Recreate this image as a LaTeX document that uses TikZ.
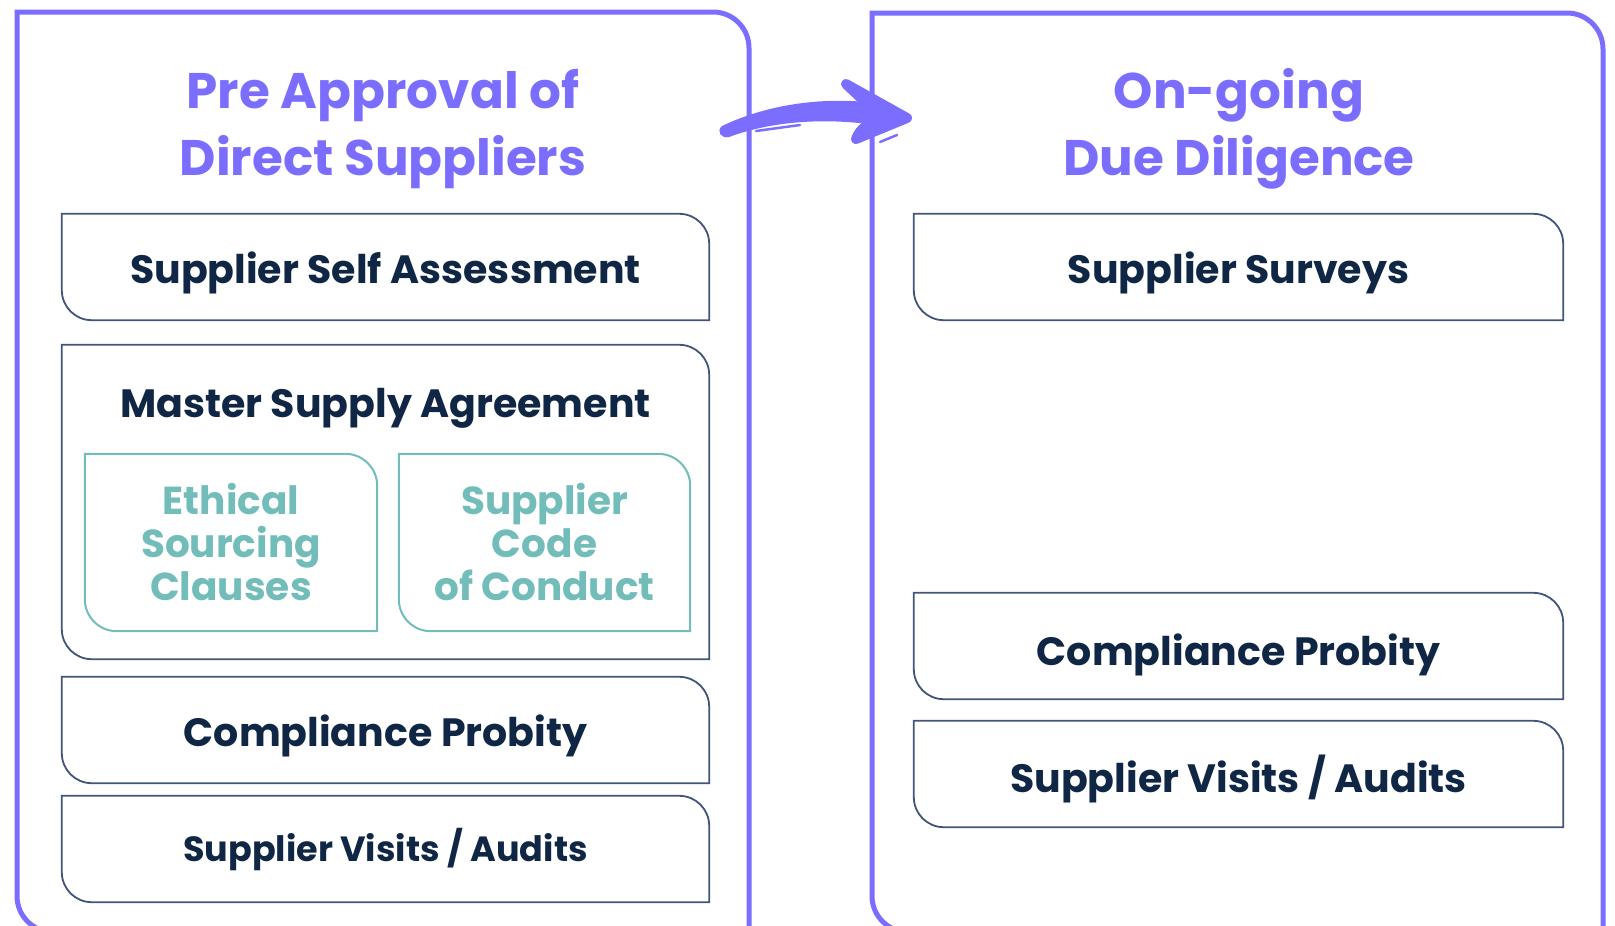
\documentclass[tikz,border=0pt]{standalone}
\usepackage{fontspec}
\setmainfont{Poppins}
\usetikzlibrary{positioning}

\definecolor{lilac}{HTML}{7B6EFF}
\definecolor{navy}{HTML}{0F2645}
\definecolor{slate}{HTML}{41557A}
\definecolor{teal}{HTML}{72BDBA}

\tikzstyle{panel} = [draw=lilac, line width=5]
\tikzstyle{heading} = [
    text=lilac,
    font=\fontsize{50}{67}\selectfont\bfseries,
    align=center
]
\tikzstyle{stepbox} = [
    rectangle,
    inner sep=0pt,
    text depth=0pt,
    text=navy,
    font=\fontsize{39.5}{44}\selectfont\bfseries
]
\tikzstyle{clausebox} = [
    rectangle,
    inner sep=0pt,
    text=teal,
    align=center,
    font=\fontsize{39}{43}\selectfont\bfseries
]
\tikzstyle{arrow} = [lilac, line cap=round, line join=round]

% frame with rounded top right and bottom left corners
\newcommand{\leafframe}[3]{%
\draw[#3] (#1.north west) -- ([xshift=-#2pt]#1.north east)
    arc[start angle=-90, end angle=0, radius=#2] -- (#1.south east)
    -- ([xshift=#2pt]#1.south west)
    arc[start angle=90, end angle=180, radius=#2] -- cycle;}

\begin{document}
\begin{tikzpicture}[x=1pt, y=-1pt]
\useasboundingbox (0,0) rectangle (1615,926);

% the two stages
\draw[panel] (749,960) -- (749,48) arc[start angle=0, end angle=-90, radius=36]
    -- (17,12) -- (17,896) arc[start angle=180, end angle=90, radius=36]
    -- (749,932);
\draw[panel] (1603,960) -- (1603,49) arc[start angle=0, end angle=-90, radius=36]
    -- (872,13) -- (872,896) arc[start angle=180, end angle=90, radius=36]
    -- (1603,932);

\node (preapp) [heading] at (383,129) {Pre Approval of\\Direct Suppliers};
\node (ongoing) [heading] at (1239,129) {On-going\\Due Diligence};

% left column
\node (selfass) [stepbox, minimum width=647, minimum height=106,
    text height=33pt] at (385.5,267)
{Supplier Self Assessment};
\node (msa) [stepbox, minimum width=647, minimum height=314] at (385.5,502) {};
\node (msatitle) [stepbox] at (385.5,403) {Master Supply Agreement};
\node (ethical) [clausebox, minimum width=292, minimum height=177] at (231,542.5)
{Ethical\\Sourcing\\Clauses};
\node (code) [clausebox, minimum width=291, minimum height=177] at (544.5,542.5)
{Supplier\\Code\\of Conduct};
\node (probleft) [stepbox, minimum width=647, minimum height=106,
    text height=33pt] at (385.5,730)
{Compliance Probity};
\node (visitleft) [stepbox, minimum width=647, minimum height=106,
    text depth=8pt, font=\fontsize{35}{40}\selectfont\bfseries] at (385.5,849)
{Supplier Visits / Audits};

% right column
\node (surveys) [stepbox, minimum width=649, minimum height=106,
    text height=33pt] at (1238.5,267)
{Supplier Surveys};
\node (probright) [stepbox, minimum width=649, minimum height=106,
    text height=39pt] at (1238.5,646)
{Compliance Probity};
\node (visitright) [stepbox, minimum width=649, minimum height=106] at (1238.5,774)
{Supplier Visits / Audits};

\leafframe{selfass}{30}{slate, line width=1.8}
\leafframe{msa}{30}{slate, line width=1.8}
\leafframe{probleft}{30}{slate, line width=1.8}
\leafframe{visitleft}{30}{slate, line width=1.8}
\leafframe{surveys}{30}{slate, line width=1.8}
\leafframe{probright}{30}{slate, line width=1.8}
\leafframe{visitright}{30}{slate, line width=1.8}
\leafframe{ethical}{32}{teal, line width=2}
\leafframe{code}{32}{teal, line width=2}

% brush arrow between the stages
\fill[arrow] (722,126) .. controls (770,103) and (832,95) .. (888,105)
    -- (888,127) .. controls (832,117) and (775,120) .. (729,137)
    .. controls (721,139) and (716,131) .. (722,126) -- cycle;
\filldraw[arrow, line width=10] (846,84) -- (907,118) -- (856,139)
    .. controls (860,128) and (870,122) .. (882,118) -- cycle;
\draw[arrow, line width=2.5] (756,131) -- (800,125);
\draw[arrow, line width=2.5] (880,142) -- (897,135);
\end{tikzpicture}
\end{document}
